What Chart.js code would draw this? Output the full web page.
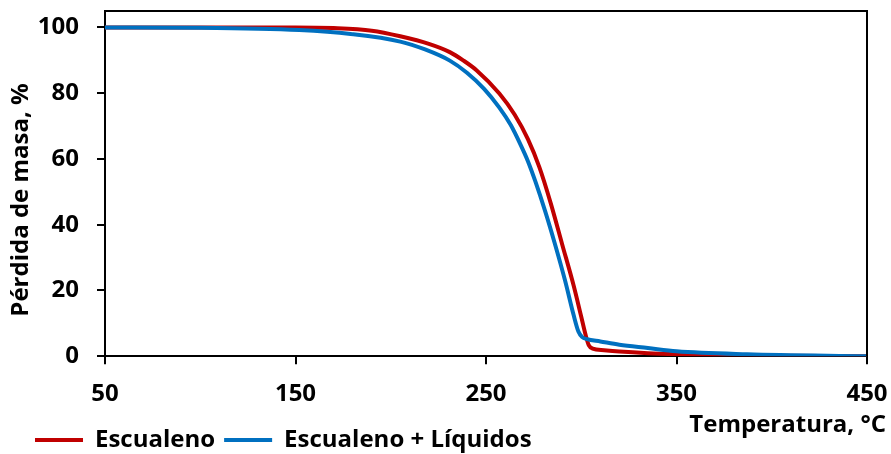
<!DOCTYPE html>
<html>
<head>
<meta charset="utf-8">
<script src="https://cdn.jsdelivr.net/npm/chart.js@4.4.1/dist/chart.umd.min.js"></script>
<style>
  html, body { margin: 0; padding: 0; background: #fff; }
  #wrap { width: 891px; height: 454px; }
</style>
</head>
<body>
<div id="wrap"><canvas id="tga" width="891" height="454"></canvas></div>
<script>
// values (temperature in °C, mass in %)
const escualenoTemp = [50, 150, 170, 190, 205, 220, 231, 238, 245, 257, 265, 272, 278, 284, 290, 296, 300, 302.5, 304, 306, 312, 320, 335, 350, 380, 450];
const escualenoMass = [100, 100, 99.8, 99, 97.3, 95, 92.5, 90, 87, 79.9, 73.5, 66, 57.5, 46.5, 34, 21.5, 12, 6, 3.3, 2.3, 1.8, 1.4, 0.9, 0.6, 0.25, 0];

const liquidosTemp = [50, 100, 152, 179, 205, 218, 231, 240, 249, 257, 263, 268, 272, 276, 281, 286, 291.5, 296, 298.5, 300.5, 303, 310, 320, 335, 350, 387, 450];
const liquidosMass = [100, 99.9, 99.2, 98, 95.7, 93.3, 89.9, 86.2, 81.3, 75.6, 70.3, 64.5, 59.3, 53, 44.2, 34.5, 23, 12.5, 7.5, 5.8, 5.2, 4.5, 3.5, 2.5, 1.5, 0.6, 0];

const xTicks = [50, 150, 250, 350, 450];
const yTicks = [0, 20, 40, 60, 80, 100];

const FONT = "'Open Sans', sans-serif";

function pairs(xs, ys) {
    return xs.map((x, i) => ({ x: x, y: ys[i] }));
}

// frame round the plot area, legend nudge, and the two axis titles
const extras = {
    id: 'extras',
    afterLayout(chart) {
        const lg = chart.legend;
        const dy = 419 - lg.top;
        lg.top += dy;
        lg.bottom += dy;
        lg.left += 26;
        lg.right += 26;
    },
    afterDraw(chart) {
        const ctx = chart.ctx;
        const a = chart.chartArea;
        ctx.save();
        ctx.strokeStyle = '#000';
        ctx.lineWidth = 2;
        ctx.beginPath();
        ctx.moveTo(a.left, a.top);
        ctx.lineTo(a.right, a.top);
        ctx.lineTo(a.right, a.bottom);
        ctx.stroke();

        ctx.fillStyle = '#000';
        ctx.font = 'bold 24px ' + FONT;
        ctx.textAlign = 'right';
        ctx.textBaseline = 'middle';
        ctx.fillText('Temperatura, °C', 886, 425);

        ctx.translate(21, 200);
        ctx.rotate(-Math.PI / 2);
        ctx.textAlign = 'center';
        ctx.fillText('Pérdida de masa, %', 0, 0);
        ctx.restore();
    }
};

new Chart(document.getElementById('tga'), {
    type: 'line',
    data: {
        datasets: [{
            label: 'Escualeno',
            data: pairs(escualenoTemp, escualenoMass),
            borderColor: '#C00000',
            backgroundColor: '#C00000',
            borderWidth: 4,
            pointRadius: 0,
            cubicInterpolationMode: 'monotone',
            order: 1
        }, {
            label: 'Escualeno + Líquidos',
            data: pairs(liquidosTemp, liquidosMass),
            borderColor: '#0070C0',
            backgroundColor: '#0070C0',
            borderWidth: 4,
            pointRadius: 0,
            cubicInterpolationMode: 'monotone',
            order: 0
        }]
    },
    options: {
        responsive: false,
        animation: false,
        layout: { padding: { left: 0, right: 24, top: 11, bottom: 0 } },
        plugins: {
            tooltip: { enabled: false },
            legend: {
                position: 'bottom',
                align: 'start',
                labels: {
                    usePointStyle: true,
                    pointStyle: 'line',
                    pointStyleWidth: 48,
                    padding: 9,
                    color: '#000',
                    sort: (a, b) => a.datasetIndex - b.datasetIndex,
                    font: { family: FONT, size: 24, weight: 'bold' }
                }
            }
        },
        scales: {
            x: {
                type: 'linear',
                min: 50,
                max: 450,
                afterBuildTicks: s => { s.ticks = xTicks.map(v => ({ value: v })); },
                afterFit: s => { s.height -= 14; s.paddingLeft = 0; s.paddingRight = 0; },
                ticks: {
                    color: '#000',
                    padding: 16,
                    maxRotation: 0,
                    font: { family: FONT, size: 24, weight: 'bold' }
                },
                grid: { drawOnChartArea: false, drawTicks: true, tickLength: 8, color: '#000', lineWidth: 2 },
                border: { display: true, color: '#000', width: 2 }
            },
            y: {
                min: 0,
                max: 105,
                afterBuildTicks: s => { s.ticks = yTicks.map(v => ({ value: v })); },
                afterFit: s => { s.width = 105; s.paddingTop = 0; s.paddingBottom = 0; },
                ticks: {
                    color: '#000',
                    padding: 18,
                    font: { family: FONT, size: 24, weight: 'bold' }
                },
                grid: { drawOnChartArea: false, drawTicks: true, tickLength: 8, color: '#000', lineWidth: 2 },
                border: { display: true, color: '#000', width: 2 }
            }
        }
    },
    plugins: [extras]
});
</script>
</body>
</html>
